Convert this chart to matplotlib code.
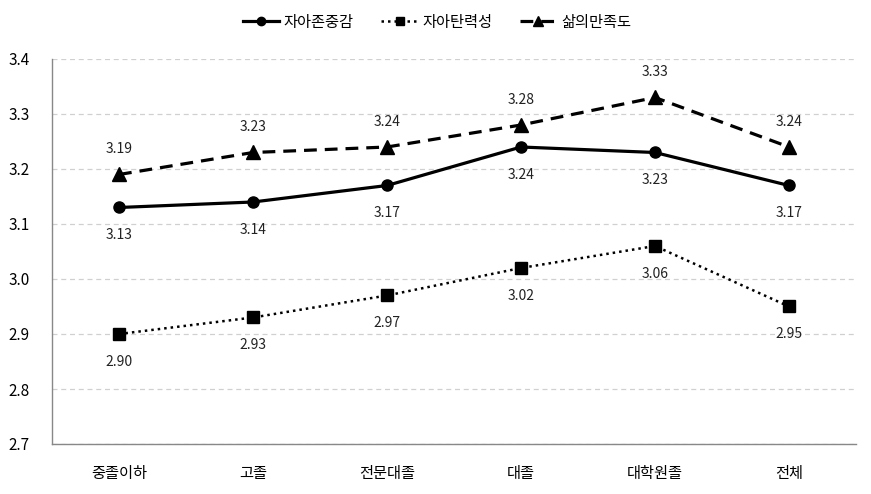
import matplotlib
matplotlib.use("Agg")
import matplotlib.pyplot as plt

plt.rcParams['font.family'] = ['Noto Sans CJK KR', 'DejaVu Sans']

categories = ['중졸이하', '고졸', '전문대졸', '대졸', '대학원졸', '전체']
self_esteem = [3.13, 3.14, 3.17, 3.24, 3.23, 3.17]
resilience = [2.90, 2.93, 2.97, 3.02, 3.06, 2.95]
life_satisfaction = [3.19, 3.23, 3.24, 3.28, 3.33, 3.24]
series_names = ['자아존중감', '자아탄력성', '삶의만족도']
yticks = [2.7, 2.8, 2.9, 3.0, 3.1, 3.2, 3.3, 3.4]

fig = plt.figure(figsize=(8.71, 4.94), dpi=100)
ax = fig.add_axes([52/871, 1-444/494, (856-52)/871, (444-59)/494])

x = list(range(len(categories)))
ax.plot(x, self_esteem, color='black', lw=2.3, ls='-', marker='o', ms=8, label=series_names[0])
ax.plot(x, resilience, color='black', lw=1.8, ls=(0, (1, 1.6)), marker='s', ms=8, label=series_names[1])
ax.plot(x, life_satisfaction, color='black', lw=2.3, ls=(0, (4, 2.5)), marker='^', ms=10, label=series_names[2])

for xi, v in zip(x, self_esteem):
    ax.annotate(f'{v:.2f}', (xi, v), xytext=(0, -20), textcoords='offset points',
                ha='center', va='center', fontsize=10, color='#222222')
for xi, v in zip(x, resilience):
    ax.annotate(f'{v:.2f}', (xi, v), xytext=(0, -20), textcoords='offset points',
                ha='center', va='center', fontsize=10, color='#222222')
for xi, v in zip(x, life_satisfaction):
    ax.annotate(f'{v:.2f}', (xi, v), xytext=(0, 18), textcoords='offset points',
                ha='center', va='center', fontsize=10, color='#222222')

ax.set_xlim(-0.5, len(categories) - 0.5)
ax.set_ylim(2.7, 3.4)
ax.set_yticks(yticks)
ax.set_yticklabels([f'{t:.1f}' for t in yticks], fontsize=11)
ax.set_xticks(x)
ax.set_xticklabels(categories, fontsize=11)
ax.tick_params(axis='both', length=0)
ax.tick_params(axis='y', pad=16)
ax.tick_params(axis='x', pad=15)
ax.yaxis.grid(True, color='#d0d0d0', ls=(0, (4, 3)), lw=0.9)
ax.set_axisbelow(True)
for s in ['top', 'right']:
    ax.spines[s].set_visible(False)
for s in ['left', 'bottom']:
    ax.spines[s].set_color('#888888')
    ax.spines[s].set_linewidth(1.0)

fig.legend(loc='center', bbox_to_anchor=(437/871, 1-22/494), ncol=3, frameon=False,
           fontsize=11, handlelength=2.4, columnspacing=1.8, handletextpad=0.3,
           markerscale=0.75)

fig.savefig('out.png', dpi=100)
